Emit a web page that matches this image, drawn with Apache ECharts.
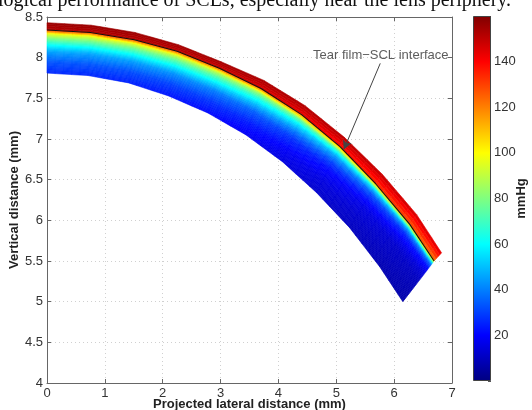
<!DOCTYPE html>
<html><head><meta charset="utf-8">
<script src="https://cdn.jsdelivr.net/npm/echarts@6/dist/echarts.min.js"></script>
<style>html,body{margin:0;padding:0;background:#fff}#c{width:532px;height:410px}</style>
</head><body><div id="c"></div>
<script>
// ---- data ----
const xTickValues = [0, 1, 2, 3, 4, 5, 6, 7];
const yTickValues = [4, 4.5, 5, 5.5, 6, 6.5, 7, 7.5, 8, 8.5];
const colorTickValues = [20, 40, 60, 80, 100, 120, 140];
const colorRange = [0, 160];

// lens stations (mm): anterior surface, tear film–SCL interface, posterior surface
const anteriorX = [0.00, 0.76, 1.52, 2.27, 3.01, 3.75, 4.46, 5.14, 5.79, 6.39, 6.82];
const anteriorY = [8.43, 8.40, 8.31, 8.16, 7.95, 7.72, 7.41, 7.02, 6.57, 6.07, 5.60];
const interfaceX = [0.00, 0.75, 1.51, 2.25, 2.98, 3.70, 4.40, 5.06, 5.68, 6.27, 6.69];
const interfaceY = [8.34, 8.31, 8.22, 8.08, 7.87, 7.62, 7.30, 6.91, 6.45, 5.95, 5.50];
const posteriorX = [0.00, 0.71, 1.41, 2.10, 2.78, 3.44, 4.07, 4.66, 5.23, 5.75, 6.15];
const posteriorY = [7.81, 7.78, 7.69, 7.53, 7.32, 7.05, 6.72, 6.34, 5.91, 5.43, 5.00];

// oxygen partial pressure (mmHg) in tear film: [outer surface, interface]
const tearFrac = [0, 1];
const tearPO2 = [
  [156, 152], [156, 152], [156, 151], [155, 150], [155, 148], [154, 146],
  [153, 143], [152, 138], [150, 133], [148, 127], [146, 122]
];
// oxygen partial pressure (mmHg) across the lens, at depth fractions (interface -> posterior)
const depthFrac = [0, 0.05, 0.1, 0.2, 0.35, 0.5, 0.75, 1];
const lensPO2 = [
  [135, 115, 96, 80, 61, 46, 33, 26],
  [135, 115, 96, 80, 61, 46, 33, 26],
  [134, 113, 95, 78, 60, 45, 32, 25],
  [133, 112, 93, 76, 58, 43, 30, 23],
  [132, 110, 90, 73, 55, 40, 28, 21],
  [130, 106, 85, 67, 49, 35, 24, 18],
  [128, 100, 78, 58, 40, 28, 19, 15],
  [126, 92, 68, 46, 30, 21, 15, 12],
  [122, 82, 55, 34, 22, 16, 12, 10],
  [118, 72, 44, 26, 17, 12, 10, 8],
  [112, 62, 36, 20, 13, 10, 8, 7]
];

const annotationText = 'Tear film\u2212SCL interface';
const annotationAt = [5.77, 8.03];
const arrowFrom = [5.76, 7.93];
const arrowTo = [5.13, 6.87];
const headerText = 'physiological performance of SCLs, especially near the lens periphery.';

// ---- helpers ----
function jet(v) {
  const t = Math.max(0, Math.min(1, (v - colorRange[0]) / (colorRange[1] - colorRange[0])));
  const c = x => Math.round(255 * Math.max(0, Math.min(1, x)));
  return 'rgb(' + c(1.5 - Math.abs(4 * t - 3)) + ',' + c(1.5 - Math.abs(4 * t - 2)) + ',' + c(1.5 - Math.abs(4 * t - 1)) + ')';
}
function profileAt(prof, fr, f) {
  for (let k = 0; k < fr.length - 1; k++) {
    if (f <= fr[k + 1]) {
      const u = (f - fr[k]) / (fr[k + 1] - fr[k]);
      return prof[k] + (prof[k + 1] - prof[k]) * u;
    }
  }
  return prof[prof.length - 1];
}
const SUB = 5;
function addLayer(children, api, i, oX, oY, nX, nY, fr, prof, N) {
  const pt = (s, f) => {
    const ox = oX[i] + (oX[i + 1] - oX[i]) * s, oy = oY[i] + (oY[i + 1] - oY[i]) * s;
    const nx = nX[i] + (nX[i + 1] - nX[i]) * s, ny = nY[i] + (nY[i + 1] - nY[i]) * s;
    return api.coord([ox + (nx - ox) * f, oy + (ny - oy) * f]);
  };
  for (let m = 0; m < SUB; m++) {
    const s0 = m / SUB, s1 = (m + 1) / SUB, sm = (m + 0.5) / SUB;
    for (let k = 0; k < N; k++) {
      const f0 = k / N, f1 = (k + 1) / N, fm = (k + 0.5) / N;
      const v = profileAt(prof[i], fr, fm) * (1 - sm) + profileAt(prof[i + 1], fr, fm) * sm;
      const col = jet(v);
      children.push({
        type: 'polygon',
        shape: { points: [pt(s0, f0), pt(s1, f0), pt(s1, f1), pt(s0, f1)] },
        style: { fill: col, stroke: col, lineWidth: 0.6 }
      });
    }
  }
}
function renderLens(params, api) {
  const i = api.value(2);
  const children = [];
  addLayer(children, api, i, anteriorX, anteriorY, interfaceX, interfaceY, tearFrac, tearPO2, 4);
  addLayer(children, api, i, interfaceX, interfaceY, posteriorX, posteriorY, depthFrac, lensPO2, 40);
  return { type: 'group', children: children };
}

const FONT = 'Liberation Sans, Arial, sans-serif';
const segData = anteriorX.slice(0, -1).map((x, i) => [x, anteriorY[i], i]);

const chart = echarts.init(document.getElementById('c'), null, { renderer: 'canvas' });
chart.setOption({
  animation: false,
  backgroundColor: '#fff',
  title: {
    text: headerText, right: 16, top: -14,
    textStyle: { fontFamily: 'Liberation Serif, Times New Roman, serif', fontSize: 20, fontWeight: 'normal', color: '#111' }
  },
  grid: [
    { left: 47, right: 80, top: 17, bottom: 27, containLabel: false, outerBoundsMode: 'none' },
    { left: 473, width: 18, top: 16, bottom: 29, containLabel: false, outerBoundsMode: 'none' }
  ],
  xAxis: [
    {
      gridIndex: 0, type: 'value', min: 0, max: 7, interval: 1, position: 'bottom',
      name: 'Projected lateral distance (mm)', nameLocation: 'middle', nameGap: 15, nameMoveOverlap: false,
      nameTextStyle: { fontFamily: FONT, fontSize: 13, fontWeight: 'bold', color: '#222' },
      axisLine: { show: true, onZero: false, lineStyle: { color: '#666', width: 1 } },
      axisTick: { show: true, inside: true, length: 4, lineStyle: { color: '#666' } },
      axisLabel: { fontFamily: FONT, fontSize: 13, color: '#333', margin: 4 },
      splitLine: { show: true, lineStyle: { color: '#d0d0d0', type: [1, 3], width: 1 } }
    },
    {
      gridIndex: 0, type: 'value', min: 0, max: 7, interval: 1, position: 'top',
      axisLine: { show: true, onZero: false, lineStyle: { color: '#666', width: 1 } },
      axisTick: { show: true, inside: true, length: 4, lineStyle: { color: '#666' } },
      axisLabel: { show: false }, splitLine: { show: false }
    },
    { gridIndex: 1, type: 'category', data: [''], show: false }
  ],
  yAxis: [
    {
      gridIndex: 0, type: 'value', min: 4, max: 8.5, interval: 0.5, position: 'left',
      name: 'Vertical distance (mm)', nameLocation: 'middle', nameGap: 26, nameMoveOverlap: false,
      nameTextStyle: { fontFamily: FONT, fontSize: 13, fontWeight: 'bold', color: '#222' },
      axisLine: { show: true, onZero: false, lineStyle: { color: '#666', width: 1 } },
      axisTick: { show: true, inside: true, length: 4, lineStyle: { color: '#666' } },
      axisLabel: { fontFamily: FONT, fontSize: 13, color: '#333', margin: 4 },
      splitLine: { show: true, lineStyle: { color: '#d0d0d0', type: [1, 3], width: 1 } }
    },
    {
      gridIndex: 0, type: 'value', min: 4, max: 8.5, interval: 0.5, position: 'right',
      axisLine: { show: true, onZero: false, lineStyle: { color: '#666', width: 1 } },
      axisTick: { show: true, inside: true, length: 4, lineStyle: { color: '#666' } },
      axisLabel: { show: false }, splitLine: { show: false }
    },
    {
      gridIndex: 1, type: 'value', min: colorRange[0], max: colorRange[1], interval: 20, position: 'right',
      name: 'mmHg', nameLocation: 'middle', nameGap: 24, nameRotate: 90, nameMoveOverlap: false,
      nameTextStyle: { fontFamily: FONT, fontSize: 13, fontWeight: 'bold', color: '#222' },
      axisLine: { show: false },
      axisTick: { show: true, inside: true, length: 3, lineStyle: { color: '#555' } },
      axisLabel: {
        fontFamily: FONT, fontSize: 13, color: '#333', margin: 3,
        formatter: v => (colorTickValues.indexOf(v) >= 0 ? String(v) : '')
      },
      splitLine: { show: false }
    }
  ],
  series: [
    {
      type: 'custom', xAxisIndex: 0, yAxisIndex: 0, renderItem: renderLens,
      encode: { x: 0, y: 1 }, data: segData, silent: true, z: 2
    },
    {
      type: 'line', xAxisIndex: 0, yAxisIndex: 0, z: 3, silent: true,
      data: interfaceX.map((x, k) => [x, interfaceY[k]]),
      showSymbol: false, symbol: 'none',
      lineStyle: { color: '#111', width: 1.1 },
      markLine: {
        silent: true, symbol: ['none', 'arrow'], symbolSize: [7, 9],
        label: { show: false },
        lineStyle: { color: '#444', width: 1, type: 'solid' },
        data: [[{ coord: arrowFrom }, { coord: arrowTo }]]
      }
    },
    {
      type: 'scatter', xAxisIndex: 0, yAxisIndex: 0, z: 4, silent: true,
      symbolSize: 1, itemStyle: { color: 'rgba(0,0,0,0)' },
      data: [annotationAt],
      label: { show: true, position: 'inside', formatter: annotationText, fontFamily: FONT, fontSize: 13, color: '#333' }
    },
    {
      type: 'bar', xAxisIndex: 2, yAxisIndex: 2, barWidth: '100%', silent: true,
      data: [colorRange[1]],
      itemStyle: {
        borderColor: '#444', borderWidth: 1,
        color: new echarts.graphic.LinearGradient(0, 1, 0, 0, [
          { offset: 0, color: jet(colorRange[0]) },
          { offset: 0.125, color: '#0000ff' },
          { offset: 0.375, color: '#00ffff' },
          { offset: 0.625, color: '#ffff00' },
          { offset: 0.875, color: '#ff0000' },
          { offset: 1, color: jet(colorRange[1]) }
        ])
      }
    }
  ]
});
</script>
</body></html>
